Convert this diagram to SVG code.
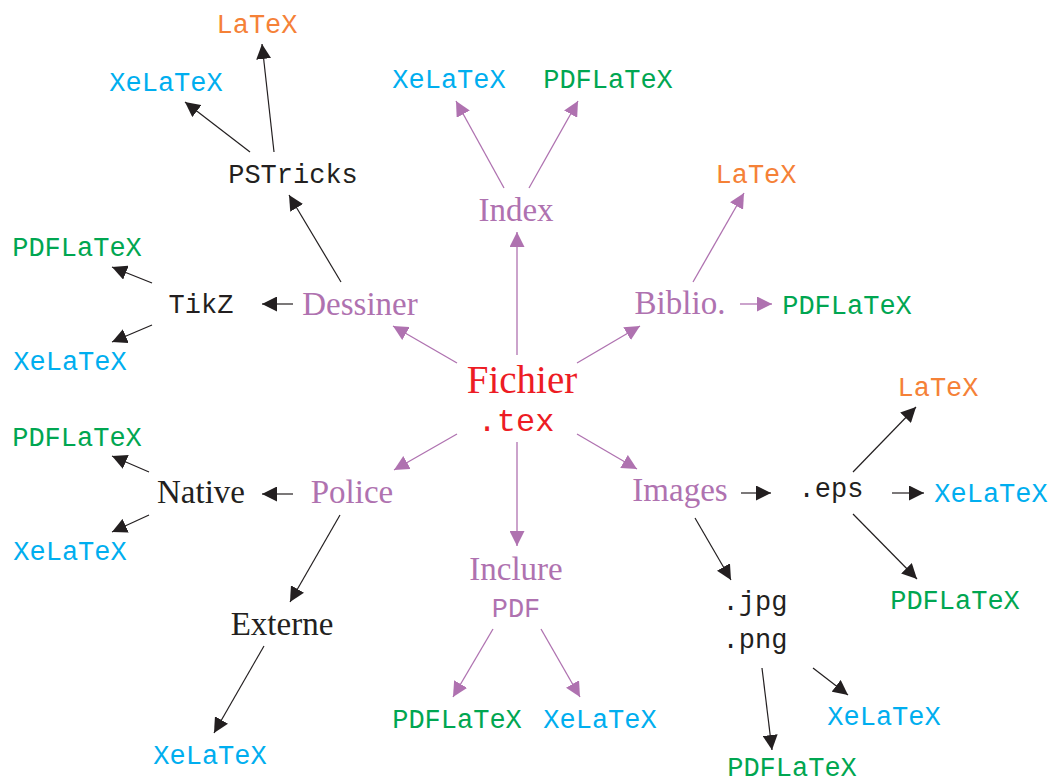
<svg xmlns="http://www.w3.org/2000/svg" width="1051" height="784" viewBox="0 0 1051 784">
<style>
.serif{font-family:"Liberation Serif","Times New Roman",serif;font-size:33px;text-anchor:middle}
.mono{font-family:"Liberation Mono","Courier New",monospace;font-size:27px;text-anchor:middle}
.big{font-size:39px}
.bigm{font-size:32px}
.pur{fill:#AF72B0}.red{fill:#ED1C24}.blk{fill:#231F20}
.org{fill:#F58137}.cyn{fill:#00AEEF}.grn{fill:#00A651}
.lp{stroke:#AF72B0;stroke-width:1.3;fill:none;marker-end:url(#ap)}
.lb{stroke:#231F20;stroke-width:1.2;fill:none;marker-end:url(#ab)}
</style>
<defs>
<marker id="ab" markerUnits="userSpaceOnUse" markerWidth="16" markerHeight="15" viewBox="0 0 16 15" refX="15" refY="7.5" orient="auto"><path d="M0,0 L15,7.5 L0,15 Z" fill="#231F20"/></marker>
<marker id="ap" markerUnits="userSpaceOnUse" markerWidth="16" markerHeight="15" viewBox="0 0 16 15" refX="15" refY="7.5" orient="auto"><path d="M0,0 L15,7.5 L0,15 Z" fill="#AF72B0"/></marker>
</defs>
<g id="connectors">
<line class="lp" x1="517" y1="355" x2="517" y2="232"/>
<line class="lp" x1="457" y1="363" x2="393" y2="326"/>
<line class="lp" x1="577" y1="363" x2="640" y2="326"/>
<line class="lp" x1="457" y1="434" x2="394" y2="470"/>
<line class="lp" x1="577" y1="434" x2="637" y2="469"/>
<line class="lp" x1="517" y1="442" x2="517" y2="546"/>
<line class="lp" x1="504" y1="188" x2="456" y2="101"/>
<line class="lp" x1="529" y1="188" x2="578" y2="101"/>
<line class="lp" x1="693" y1="282" x2="744" y2="193"/>
<line class="lp" x1="740" y1="304" x2="772" y2="304"/>
<line class="lp" x1="493" y1="629" x2="453" y2="697"/>
<line class="lp" x1="541" y1="629" x2="580" y2="697"/>
<line class="lb" x1="274" y1="152" x2="262" y2="44"/>
<line class="lb" x1="250" y1="152" x2="185" y2="102"/>
<line class="lb" x1="341" y1="282" x2="289" y2="195"/>
<line class="lb" x1="293" y1="304" x2="262" y2="304"/>
<line class="lb" x1="152" y1="283" x2="112" y2="267"/>
<line class="lb" x1="152" y1="325" x2="112" y2="342"/>
<line class="lb" x1="293" y1="494" x2="262" y2="494"/>
<line class="lb" x1="149" y1="472" x2="112" y2="456"/>
<line class="lb" x1="149" y1="515" x2="112" y2="532"/>
<line class="lb" x1="340" y1="515" x2="290" y2="602"/>
<line class="lb" x1="264" y1="646" x2="214" y2="733"/>
<line class="lb" x1="741" y1="493" x2="771" y2="493"/>
<line class="lb" x1="853" y1="472" x2="916" y2="407"/>
<line class="lb" x1="892" y1="493" x2="924" y2="493"/>
<line class="lb" x1="853" y1="514" x2="917" y2="579"/>
<line class="lb" x1="695" y1="518" x2="731" y2="580"/>
<line class="lb" x1="813" y1="668" x2="848" y2="695"/>
<line class="lb" x1="762" y1="668" x2="772" y2="750"/>
</g>
<g id="center"><text class="serif big red" x="522" y="393">Fichier</text><text class="mono bigm red" x="516" y="431">.tex</text></g>
<g id="index"><text class="serif pur" x="516" y="221">Index</text></g>
<g id="index-xelatex"><text class="mono cyn" x="449" y="88">XeLaTeX</text></g>
<g id="index-pdflatex"><text class="mono grn" x="608" y="88">PDFLaTeX</text></g>
<g id="dessiner"><text class="serif pur" x="360" y="315">Dessiner</text></g>
<g id="pstricks"><text class="mono blk" x="293" y="183">PSTricks</text></g>
<g id="pst-latex"><text class="mono org" x="257" y="33">LaTeX</text></g>
<g id="pst-xelatex"><text class="mono cyn" x="166" y="91">XeLaTeX</text></g>
<g id="tikz"><text class="mono blk" x="201" y="313">TikZ</text></g>
<g id="tikz-pdflatex"><text class="mono grn" x="77" y="256">PDFLaTeX</text></g>
<g id="tikz-xelatex"><text class="mono cyn" x="70" y="370">XeLaTeX</text></g>
<g id="biblio"><text class="serif pur" x="680" y="314">Biblio.</text></g>
<g id="biblio-latex"><text class="mono org" x="756" y="183">LaTeX</text></g>
<g id="biblio-pdflatex"><text class="mono grn" x="847" y="314">PDFLaTeX</text></g>
<g id="police"><text class="serif pur" x="352" y="503">Police</text></g>
<g id="native"><text class="serif blk" x="201" y="503">Native</text></g>
<g id="native-pdflatex"><text class="mono grn" x="77" y="446">PDFLaTeX</text></g>
<g id="native-xelatex"><text class="mono cyn" x="70" y="560">XeLaTeX</text></g>
<g id="externe"><text class="serif blk" x="282" y="635">Externe</text></g>
<g id="externe-xelatex"><text class="mono cyn" x="210" y="764">XeLaTeX</text></g>
<g id="inclure"><text class="serif pur" x="516" y="580">Inclure</text><text class="mono pur" x="516" y="617">PDF</text></g>
<g id="inclure-pdflatex"><text class="mono grn" x="457" y="728">PDFLaTeX</text></g>
<g id="inclure-xelatex"><text class="mono cyn" x="600" y="728">XeLaTeX</text></g>
<g id="images"><text class="serif pur" x="680" y="501">Images</text></g>
<g id="eps"><text class="mono blk" x="831" y="497">.eps</text></g>
<g id="eps-latex"><text class="mono org" x="938" y="396">LaTeX</text></g>
<g id="eps-xelatex"><text class="mono cyn" x="991" y="502">XeLaTeX</text></g>
<g id="eps-pdflatex"><text class="mono grn" x="955" y="609">PDFLaTeX</text></g>
<g id="jpgpng"><text class="mono blk" x="755" y="610">.jpg</text><text class="mono blk" x="755" y="648">.png</text></g>
<g id="png-xelatex"><text class="mono cyn" x="884" y="725">XeLaTeX</text></g>
<g id="png-pdflatex"><text class="mono grn" x="792" y="776">PDFLaTeX</text></g>
</svg>
